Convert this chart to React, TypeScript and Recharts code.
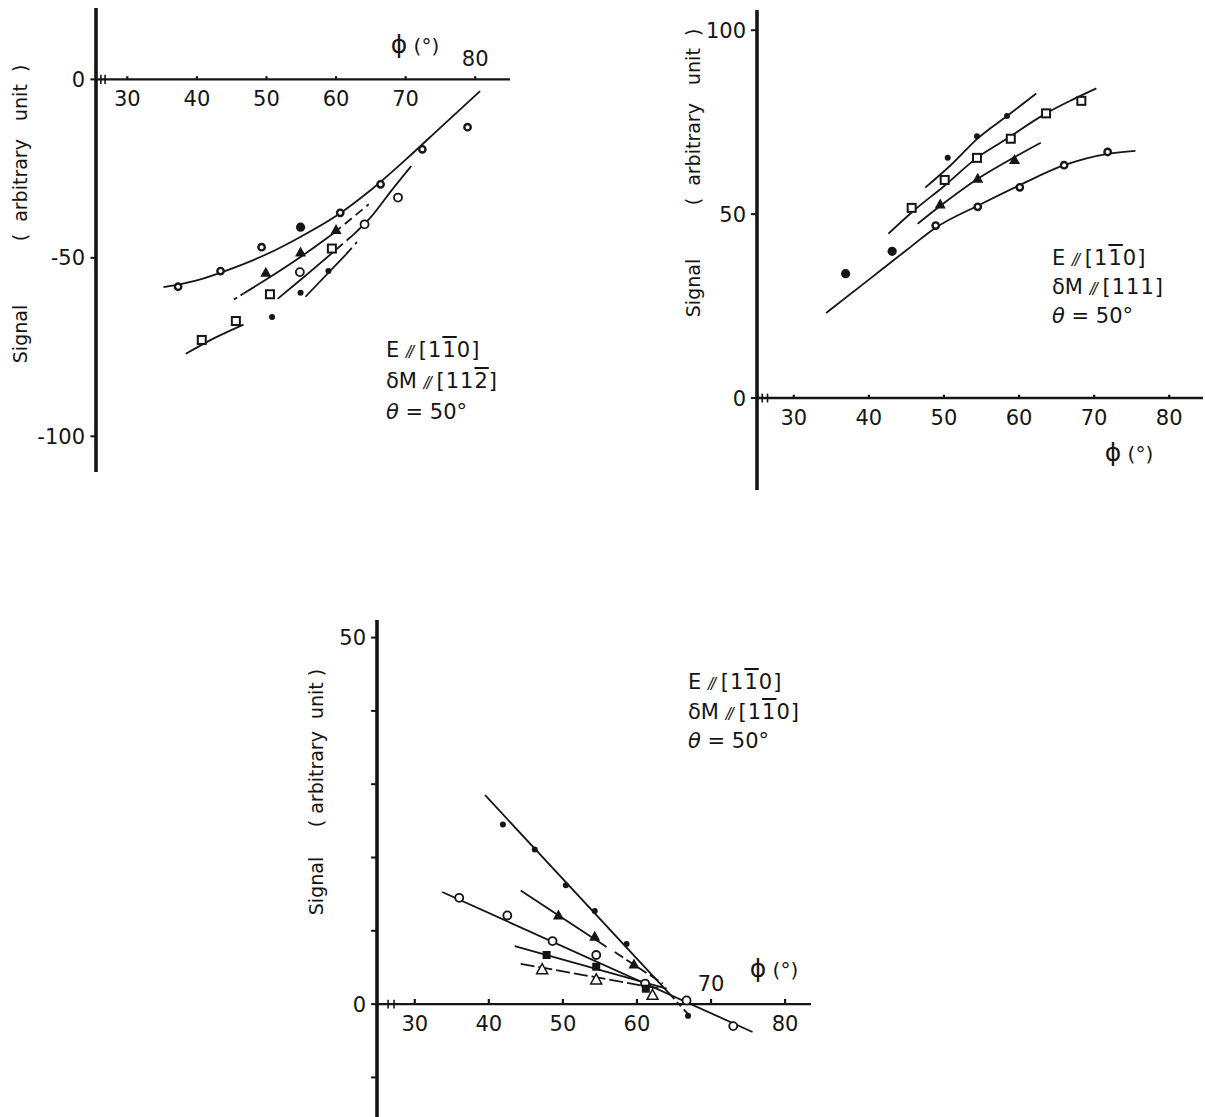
import React from 'react';
import { ComposedChart, Line, Scatter, XAxis, YAxis, ReferenceLine, ReferenceDot } from 'recharts';

const FONT = '"DejaVu Sans", "Liberation Sans", sans-serif';
const INK = '#151515';

// phi (deg) ticks shared by the three panels
const phiTicks = [30, 40, 50, 60, 70, 80];

// ---- panel 1 : E // [1-10], dM // [11-2]
const p1YTicks = [0, -50, -100];
const p1RingPhi = [37.3, 43.4, 49.3, 60.6, 66.4, 72.4, 78.9];
const p1RingSig = [-58.1, -53.7, -47.0, -37.4, -29.4, -19.6, -13.4];
const p1BigPhi = [54.9];
const p1BigSig = [-41.4];
const p1TriPhi = [49.9, 54.9, 60.0];
const p1TriSig = [-54.2, -48.5, -42.2];
const p1SqPhi = [40.7, 45.6, 50.5, 59.4];
const p1SqSig = [-73.0, -67.7, -60.2, -47.4];
const p1CircPhi = [54.8, 64.1, 68.9];
const p1CircSig = [-54.0, -40.6, -33.1];
const p1DotPhi = [50.8, 54.9, 58.9];
const p1DotSig = [-66.6, -59.8, -53.7];
// fitted curves
const p1FitAPhi = [35.2, 40, 45, 50, 55, 60, 65, 70, 75, 80.7];
const p1FitASig = [-58.2, -56.3, -53.0, -49.0, -44.0, -38.3, -31.0, -22.5, -13.5, -3.3];
const p1FitBPhi = [46.7, 50, 55, 59.7];
const p1FitBSig = [-60.0, -56.0, -49.6, -43.0];
const p1FitBHeadPhi = [45.3, 46.7];
const p1FitBHeadSig = [-61.7, -60.0];
const p1FitBTailPhi = [59.7, 64.7];
const p1FitBTailSig = [-43.0, -35.0];
const p1FitCPhi = [51.6, 55, 60.0];
const p1FitCSig = [-61.5, -56.0, -47.7];
const p1FitCGapPhi = [60.0, 62.5];
const p1FitCGapSig = [-47.7, -43.5];
const p1FitCTopPhi = [62.5, 65, 68.1, 70.8];
const p1FitCTopSig = [-43.5, -38.6, -30.8, -24.3];
const p1FitDPhi = [55.6, 61.4];
const p1FitDSig = [-60.9, -49.1];
const p1FitDTailPhi = [61.4, 63.0];
const p1FitDTailSig = [-49.1, -45.6];
const p1FitEPhi = [38.4, 42.5, 46.7];
const p1FitESig = [-76.9, -72.5, -68.7];

// ---- panel 2 : E // [1-10], dM // [111]
const p2YTicks = [0, 50, 100];
const p2DotPhi = [50.5, 54.4, 58.4];
const p2DotSig = [65.3, 71.2, 76.7];
const p2SqPhi = [45.7, 50.1, 54.4, 58.9, 63.6, 68.3];
const p2SqSig = [51.7, 59.3, 65.3, 70.5, 77.4, 80.8];
const p2TriPhi = [49.5, 54.5, 59.4];
const p2TriSig = [52.6, 59.6, 64.7];
const p2RingPhi = [48.9, 54.5, 60.1, 66.0, 71.8];
const p2RingSig = [46.9, 52.0, 57.3, 63.3, 66.9];
const p2BigPhi = [36.9, 43.1];
const p2BigSig = [33.8, 39.9];
const p2FitAPhi = [47.5, 51, 54.5, 58.4, 62.3];
const p2FitASig = [57.2, 63.5, 70.6, 76.7, 82.8];
const p2FitBPhi = [42.6, 46, 50, 54.4, 58, 63.6, 67, 70.3];
const p2FitBSig = [44.7, 51.0, 57.6, 65.3, 70.0, 77.4, 81.0, 84.2];
const p2FitCPhi = [46.5, 49.5, 54.5, 59.4, 62.9];
const p2FitCSig = [47.4, 52.2, 59.6, 65.5, 69.4];
const p2FitDPhi = [34.3, 40, 45, 48.9, 54.5, 60.2, 66, 71.8, 75.5];
const p2FitDSig = [23.1, 32.2, 40.2, 46.3, 52.3, 58.0, 63.3, 66.4, 67.2];

// ---- panel 3 : E // [1-10], dM // [1-10]
const p3YTicks = [50, 40, 30, 20, 10, 0, -10];
const p3YLabels = [50, 0];
const p3DotPhi = [41.9, 46.2, 50.4, 54.3, 58.6, 66.9];
const p3DotSig = [24.5, 21.1, 16.2, 12.7, 8.2, -1.6];
const p3TriPhi = [49.4, 54.3, 59.6];
const p3TriSig = [12.1, 9.2, 5.4];
const p3CircPhi = [36.0, 42.5, 48.6, 54.5, 61.1, 66.7, 73.0];
const p3CircSig = [14.5, 12.1, 8.6, 6.7, 2.8, 0.5, -3.0];
const p3SqPhi = [47.8, 54.5, 61.2];
const p3SqSig = [6.7, 5.1, 2.1];
const p3OTriPhi = [47.2, 54.5, 62.1];
const p3OTriSig = [4.7, 3.3, 1.2];
const p3FitAPhi = [39.5, 64.5];
const p3FitASig = [28.5, 1.3];
const p3FitATailPhi = [64.5, 67.2];
const p3FitATailSig = [1.3, -1.7];
const p3FitBPhi = [44.3, 55.9];
const p3FitBSig = [15.5, 7.8];
const p3FitBTailPhi = [57.0, 63.5];
const p3FitBTailSig = [7.1, 2.8];
const p3FitCPhi = [33.7, 75.6];
const p3FitCSig = [15.3, -3.8];
const p3FitDPhi = [43.5, 64.0];
const p3FitDSig = [7.9, 2.1];
const p3FitEPhi = [44.3, 63.1];
const p3FitESig = [5.5, 2.1];

const pts = (phi: number[], sig: number[]) => phi.map((x, i) => ({ x, y: sig[i] }));

// marker shapes
const ring = (p: any) => <circle cx={p.cx} cy={p.cy} r={3.2} fill="#fff" stroke={INK} strokeWidth={2.4} />;
const bigDot = (p: any) => <circle cx={p.cx} cy={p.cy} r={4.6} fill={INK} />;
const smallDot = (p: any) => <circle cx={p.cx} cy={p.cy} r={3} fill={INK} />;
const openCircle = (p: any) => <circle cx={p.cx} cy={p.cy} r={4} fill="#fff" stroke={INK} strokeWidth={1.8} />;
const openSquare = (p: any) => (
  <rect x={p.cx - 4} y={p.cy - 4} width={8} height={8} fill="#fff" stroke={INK} strokeWidth={2} />
);
const fullSquare = (p: any) => <rect x={p.cx - 4} y={p.cy - 4} width={8} height={8} fill={INK} />;
const triangle = (p: any) => (
  <polygon points={`${p.cx},${p.cy - 6} ${p.cx - 5.5},${p.cy + 4} ${p.cx + 5.5},${p.cy + 4}`} fill={INK} />
);
const openTriangle = (p: any) => (
  <polygon
    points={`${p.cx},${p.cy - 6} ${p.cx - 5.5},${p.cy + 4} ${p.cx + 5.5},${p.cy + 4}`}
    fill="#fff"
    stroke={INK}
    strokeWidth={1.5}
  />
);

type Fit = { data: { x: number; y: number }[]; dash?: string };
type Marks = { data: { x: number; y: number }[]; shape: (p: any) => React.ReactElement };

interface PanelProps {
  left: number;
  top: number;
  width: number;
  height: number;
  margin: { top: number; right: number; bottom: number; left: number };
  xDomain: [number, number];
  yDomain: [number, number];
  yTicks: number[];
  yLabels: number[];
  xBelow: number[];
  xAbove: number[];
  tickUp: number;
  yTickLen: number;
  breakX: [number, number];
  breakH: number;
  fits: Fit[];
  marks: Marks[];
}

const tickLabel = (value: string, position: string, offset: number) => ({
  value,
  position,
  offset,
  fill: INK,
  fontSize: 21,
  fontFamily: FONT,
});

const Panel = (p: PanelProps) => {
  const x0 = p.xDomain[0];
  return (
    <div style={{ position: 'absolute', left: p.left, top: p.top }}>
      <ComposedChart width={p.width} height={p.height} margin={p.margin}>
        <XAxis type="number" dataKey="x" domain={p.xDomain} allowDataOverflow hide />
        <YAxis type="number" dataKey="y" domain={p.yDomain} allowDataOverflow hide />
        <ReferenceLine x={x0} stroke={INK} strokeWidth={3.6} ifOverflow="visible" />
        <ReferenceLine y={0} stroke={INK} strokeWidth={2.4} ifOverflow="visible" />
        {p.breakX.map((b) => (
          <ReferenceLine
            key={`b${b}`}
            segment={[{ x: b, y: -p.breakH }, { x: b, y: p.breakH }]}
            stroke={INK}
            strokeWidth={1.6}
            ifOverflow="visible"
          />
        ))}
        {phiTicks.map((t) => (
          <ReferenceLine
            key={`t${t}`}
            segment={[{ x: t, y: 0 }, { x: t, y: p.tickUp }]}
            stroke={INK}
            strokeWidth={2.2}
            ifOverflow="visible"
          />
        ))}
        {p.yTicks.map((t) => (
          <ReferenceLine
            key={`y${t}`}
            segment={[{ x: x0 - p.yTickLen, y: t }, { x: x0, y: t }]}
            stroke={INK}
            strokeWidth={2}
            ifOverflow="visible"
          />
        ))}
        {p.xBelow.map((t) => (
          <ReferenceDot key={`lb${t}`} x={t} y={0} r={0} ifOverflow="visible" label={tickLabel(String(t), 'bottom', 12) as any} />
        ))}
        {p.xAbove.map((t) => (
          <ReferenceDot key={`la${t}`} x={t} y={0} r={0} ifOverflow="visible" label={tickLabel(String(t), 'top', 13) as any} />
        ))}
        {p.yLabels.map((t) => (
          <ReferenceDot key={`ly${t}`} x={x0} y={t} r={0} ifOverflow="visible" label={tickLabel(String(t), 'left', 11) as any} />
        ))}
        {p.fits.map((f, i) => (
          <Line
            key={`f${i}`}
            data={f.data}
            dataKey="y"
            type="monotone"
            stroke={INK}
            strokeWidth={1.8}
            strokeDasharray={f.dash}
            dot={false}
            activeDot={false}
            isAnimationActive={false}
          />
        ))}
        {p.marks.map((m, i) => (
          <Scatter key={`m${i}`} data={m.data} dataKey="y" shape={m.shape} isAnimationActive={false} />
        ))}
      </ComposedChart>
    </div>
  );
};

const Ov = ({ children }: { children: React.ReactNode }) => (
  <span style={{ textDecoration: 'overline' }}>{children}</span>
);
const Par = () => <span style={{ fontStyle: 'italic', fontSize: '0.72em', letterSpacing: -2 }}>//</span>;

const Note = ({ left, top, lh, dm }: { left: number; top: number; lh: number; dm: React.ReactNode }) => (
  <div style={{ position: 'absolute', left, top, fontFamily: FONT, fontSize: 21, lineHeight: `${lh}px`, color: INK, whiteSpace: 'nowrap' }}>
    <div>
      E <Par /> <span style={{ letterSpacing: 1 }}>[1<Ov>1</Ov>0]</span>
    </div>
    <div>
      δM <Par /> <span style={{ letterSpacing: 1 }}>{dm}</span>
    </div>
    <div>
      <i>θ</i> = 50°
    </div>
  </div>
);

const VText = ({ cx, cy, text }: { cx: number; cy: number; text: string }) => (
  <div
    style={{
      position: 'absolute',
      left: cx,
      top: cy,
      transform: 'translate(-50%, -50%) rotate(-90deg)',
      fontFamily: FONT,
      fontSize: 19,
      color: INK,
      whiteSpace: 'pre',
    }}
  >
    {text}
  </div>
);

const PhiLabel = ({ cx, cy }: { cx: number; cy: number }) => (
  <div
    style={{
      position: 'absolute',
      left: cx,
      top: cy,
      transform: 'translate(-50%, -50%)',
      fontFamily: FONT,
      fontSize: 25,
      color: INK,
      whiteSpace: 'nowrap',
    }}
  >
    ϕ<span style={{ fontSize: 20 }}> (°)</span>
  </div>
);

export default function App() {
  return (
    <div style={{ position: 'absolute', left: 0, top: 0, width: 1205, height: 1117, background: '#fff', overflow: 'hidden' }}>
      <Panel
        left={0}
        top={0}
        width={540}
        height={490}
        margin={{ top: 8, right: 30, bottom: 18, left: 96 }}
        xDomain={[25.5, 85]}
        yDomain={[-110, 20]}
        yTicks={p1YTicks}
        yLabels={p1YTicks}
        xBelow={[30, 40, 50, 60, 70]}
        xAbove={[80]}
        tickUp={0.9}
        yTickLen={0.8}
        breakX={[26.2, 26.8]}
        breakH={1.3}
        fits={[
          { data: pts(p1FitAPhi, p1FitASig) },
          { data: pts(p1FitBPhi, p1FitBSig) },
          { data: pts(p1FitBHeadPhi, p1FitBHeadSig), dash: '4 4' },
          { data: pts(p1FitBTailPhi, p1FitBTailSig), dash: '9 5' },
          { data: pts(p1FitCPhi, p1FitCSig) },
          { data: pts(p1FitCGapPhi, p1FitCGapSig), dash: '9 5' },
          { data: pts(p1FitCTopPhi, p1FitCTopSig) },
          { data: pts(p1FitDPhi, p1FitDSig) },
          { data: pts(p1FitDTailPhi, p1FitDTailSig), dash: '9 5' },
          { data: pts(p1FitEPhi, p1FitESig) },
        ]}
        marks={[
          { data: pts(p1RingPhi, p1RingSig), shape: ring },
          { data: pts(p1BigPhi, p1BigSig), shape: bigDot },
          { data: pts(p1TriPhi, p1TriSig), shape: triangle },
          { data: pts(p1SqPhi, p1SqSig), shape: openSquare },
          { data: pts(p1CircPhi, p1CircSig), shape: openCircle },
          { data: pts(p1DotPhi, p1DotSig), shape: smallDot },
        ]}
      />
      <Panel
        left={660}
        top={0}
        width={545}
        height={500}
        margin={{ top: 10, right: 2, bottom: 10, left: 97 }}
        xDomain={[25.1, 84.5]}
        yDomain={[-25, 105.5]}
        yTicks={p2YTicks}
        yLabels={p2YTicks}
        xBelow={phiTicks}
        xAbove={[]}
        tickUp={0.9}
        yTickLen={0.8}
        breakX={[25.8, 26.5]}
        breakH={1.2}
        fits={[
          { data: pts(p2FitAPhi, p2FitASig) },
          { data: pts(p2FitBPhi, p2FitBSig) },
          { data: pts(p2FitCPhi, p2FitCSig) },
          { data: pts(p2FitDPhi, p2FitDSig) },
        ]}
        marks={[
          { data: pts(p2DotPhi, p2DotSig), shape: smallDot },
          { data: pts(p2SqPhi, p2SqSig), shape: openSquare },
          { data: pts(p2TriPhi, p2TriSig), shape: triangle },
          { data: pts(p2RingPhi, p2RingSig), shape: ring },
          { data: pts(p2BigPhi, p2BigSig), shape: bigDot },
        ]}
      />
      <Panel
        left={280}
        top={600}
        width={540}
        height={517}
        margin={{ top: 20, right: 9, bottom: 0, left: 97 }}
        xDomain={[24.9, 83.5]}
        yDomain={[-15.4, 52.4]}
        yTicks={p3YTicks}
        yLabels={p3YLabels}
        xBelow={[30, 40, 50, 60, 80]}
        xAbove={[70]}
        tickUp={0.7}
        yTickLen={0.8}
        breakX={[26.4, 27.2]}
        breakH={0.6}
        fits={[
          { data: pts(p3FitAPhi, p3FitASig) },
          { data: pts(p3FitATailPhi, p3FitATailSig), dash: '6 4' },
          { data: pts(p3FitBPhi, p3FitBSig) },
          { data: pts(p3FitBTailPhi, p3FitBTailSig), dash: '10 4' },
          { data: pts(p3FitCPhi, p3FitCSig) },
          { data: pts(p3FitDPhi, p3FitDSig) },
          { data: pts(p3FitEPhi, p3FitESig), dash: '14 4' },
        ]}
        marks={[
          { data: pts(p3DotPhi, p3DotSig), shape: smallDot },
          { data: pts(p3TriPhi, p3TriSig), shape: triangle },
          { data: pts(p3CircPhi, p3CircSig), shape: openCircle },
          { data: pts(p3SqPhi, p3SqSig), shape: fullSquare },
          { data: pts(p3OTriPhi, p3OTriSig), shape: openTriangle },
        ]}
      />

      <VText cx={20} cy={334} text="Signal" />
      <VText cx={20} cy={153} text="(  arbitrary   unit  )" />
      <VText cx={693} cy={288} text="Signal" />
      <VText cx={693} cy={117} text="(  arbitrary   unit  )" />
      <VText cx={316} cy={886} text="Signal" />
      <VText cx={316} cy={748} text="( arbitrary  unit )" />

      <PhiLabel cx={415} cy={44} />
      <PhiLabel cx={1129} cy={452} />
      <PhiLabel cx={774} cy={968} />

      <Note left={386} top={336} lh={29} dm={<>[11<Ov>2</Ov>]</>} />
      <Note left={1052} top={245} lh={27} dm={<>[111]</>} />
      <Note left={688} top={669} lh={27.5} dm={<>[1<Ov>1</Ov>0]</>} />
    </div>
  );
}
